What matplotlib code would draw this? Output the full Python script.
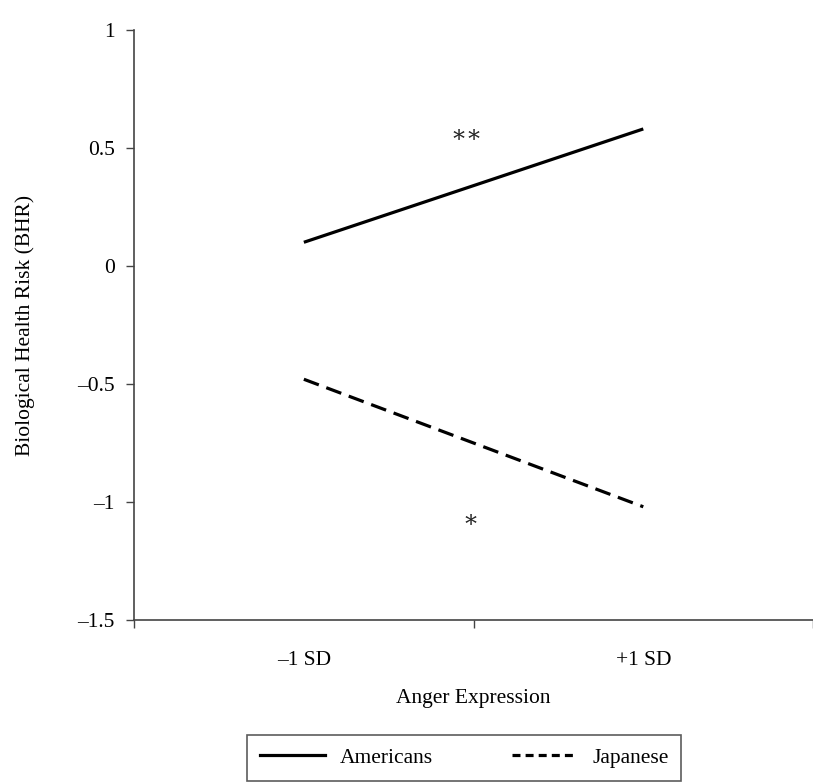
import matplotlib.pyplot as plt
from matplotlib.lines import Line2D

plt.rcParams['font.family'] = ['Liberation Serif', 'DejaVu Serif']

categories = ['\u20131 SD', '+1 SD']
americans = [0.10, 0.58]
japanese = [-0.48, -1.02]
yticks = [1, 0.5, 0, -0.5, -1, -1.5]
ytick_labels = ['1', '0.5', '0', '\u20130.5', '\u20131', '\u20131.5']

fig = plt.figure(figsize=(8.13, 7.83), dpi=100)
ax = fig.add_axes([0.165, 0.208, 0.835, 0.754])

x = list(range(len(categories)))
ax.plot(x, americans, color='black', lw=2.3, solid_capstyle='butt')
ax.plot(x, japanese, color='black', lw=2.3, dashes=(5, 2.5))

# significance markers
ax.text(0.48, 0.55, '\u2217\u2217', ha='center', va='center', fontsize=17,
        color='#222222')
ax.text(0.49, -1.08, '\u2217', ha='center', va='center', fontsize=17,
        color='#222222')

ax.set_xlim(-0.5, 1.5)
ax.set_ylim(-1.5, 1)
ax.set_yticks(yticks)
ax.set_yticklabels(ytick_labels, fontsize=15.5)

# tick marks between categories, labels at category centres
ax.set_xticks([-0.5, 0.5, 1.5])
ax.set_xticklabels([])
ax.set_xticks(x, minor=True)
ax.set_xticklabels(categories, minor=True, fontsize=15.5)
ax.tick_params(axis='x', which='minor', length=0, pad=22)
ax.tick_params(axis='both', which='major', length=6, width=1, color='#444444')
ax.tick_params(axis='y', pad=8)

for s in ['top', 'right']:
    ax.spines[s].set_visible(False)
for s in ['left', 'bottom']:
    ax.spines[s].set_color('#444444')
    ax.spines[s].set_linewidth(1.2)
ax.spines['bottom'].set_clip_on(False)

ax.set_xlabel('Anger Expression', fontsize=15.5, labelpad=14)
ax.set_ylabel('Biological Health Risk (BHR)', fontsize=15.5, labelpad=30)

handles = [Line2D([], [], color='black', lw=2.3),
           Line2D([], [], color='black', lw=2.3, dashes=(2.5, 1.6))]
leg = fig.legend(handles, ['Americans', 'Japanese'], loc='upper left',
                 bbox_to_anchor=(0.304, 0.0613), ncol=2, fontsize=15.5,
                 frameon=True, fancybox=False, edgecolor='#333333',
                 handlelength=3.0, handletextpad=0.7, columnspacing=3.7,
                 borderpad=0.6, borderaxespad=0)
leg.get_frame().set_linewidth(1.2)

fig.savefig('out.png', dpi=100)
